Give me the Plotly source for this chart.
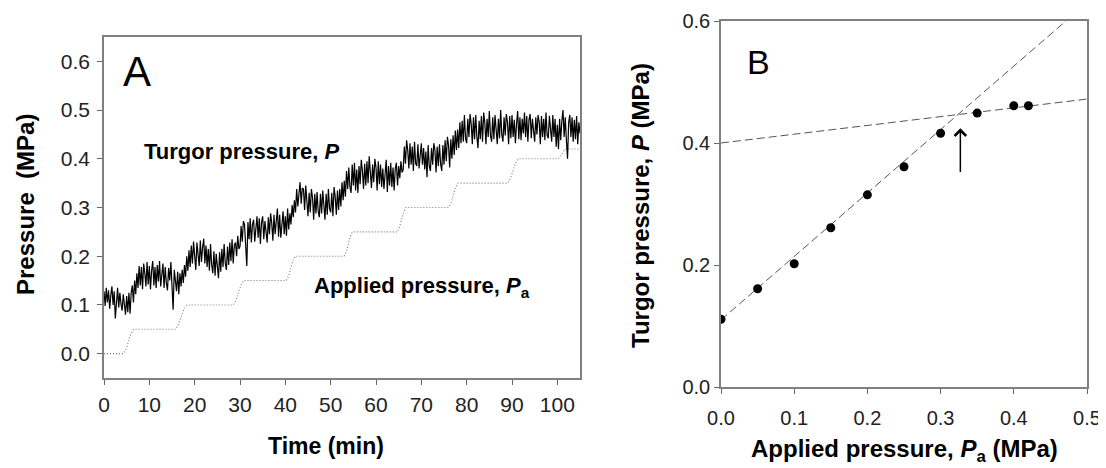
import plotly.graph_objects as go

# ---------------- Panel A data ----------------
# Turgor pressure trace (kPa), sampled every 0.25 min from 0 to 105 min
sample_step_min = 0.25
turgor_kpa = [
    128, 98, 135, 105,  130, 92, 120, 138,  100, 128, 72, 118,  135, 95, 125, 102,
    88, 122, 98, 80,  118, 85, 125, 82,  125, 140, 105, 150,  122, 165, 135, 180,
    140, 178, 132, 185,  165, 138, 188, 142,  180, 132, 170, 190,  140, 178, 135, 182,
    148, 190, 138, 172,  185, 135, 178, 145,  130, 176, 150, 188,  138, 90, 172, 140,
    128, 168, 122, 165,  138, 172, 145, 182,  158, 200, 170, 212,  178, 222, 185, 230,
    190, 172, 228, 195,  180, 232, 188, 218,  236, 185, 222, 178,  215, 170, 225, 182,
    165, 210, 160, 205,  172, 155, 208, 168,  215, 178, 225, 185,  172, 220, 182, 228,
    190, 235, 185, 222,  228, 200, 242, 215,  220, 262, 230, 272,  265, 232, 180, 270,
    235, 278, 228, 265,  275, 230, 268, 282,  238, 278, 225, 270,  282, 235, 272, 240,
    228, 280, 245, 288,  268, 232, 285, 245,  275, 298, 240, 285,  238, 275, 292, 245,
    282, 242, 298, 255,  288, 265, 305, 280,  315, 290, 338, 302,  325, 352, 308, 340,
    338, 295, 345, 302,  282, 330, 290, 338,  320, 275, 328, 288,  332, 292, 280, 328,
    288, 335, 295, 275,  328, 285, 338, 298,  290, 330, 282, 342,  322, 285, 335, 295,
    338, 302, 352, 315,  355, 322, 375, 338,  382, 342, 330, 388,  345, 392, 335, 378,
    330, 385, 348, 398,  375, 338, 390, 345,  395, 350, 405, 358,  340, 388, 352, 400,
    382, 335, 395, 348,  388, 342, 380, 338,  378, 398, 332, 385,  345, 392, 342, 382,
    335, 380, 392, 345,  385, 360, 395, 372,  378, 425, 390, 438,  418, 380, 432, 388,
    425, 375, 435, 390,  385, 430, 380, 418,  432, 388, 422, 378,  415, 362, 428, 385,
    375, 422, 388, 432,  418, 372, 425, 385,  430, 390, 375, 428,  388, 438, 395, 445,
    428, 382, 440, 400,  448, 408, 458, 418,  460, 422, 475, 432,  478, 435, 490, 442,
    432, 482, 445, 492,  472, 430, 485, 440,  490, 445, 422, 478,  440, 488, 435, 495,
    475, 430, 482, 445,  498, 448, 435, 485,  440, 490, 452, 430,  482, 442, 500, 450,
    435, 485, 448, 492,  475, 430, 488, 442,  490, 445, 480, 432,  472, 498, 440, 485,
    438, 482, 452, 495,  445, 488, 435, 480,  492, 442, 482, 448,  435, 485, 450, 490,
    475, 430, 488, 445,  482, 438, 495, 448,  442, 488, 452, 435,  490, 445, 482, 425,
    470, 420, 482, 438,  478, 500, 445, 485,  438, 400, 475, 490,  445, 485, 435, 480,
    440, 488, 430, 475,  452,
]
time_min = [i * sample_step_min for i in range(len(turgor_kpa))]
turgor_mpa = [v / 1000.0 for v in turgor_kpa]

# Applied pressure (step profile) breakpoints
applied_time_min = [
    0, 4.3, 4.9, 5.9, 6.5,
    15.8, 16.4, 17.6, 18.2,
    28.5, 29.1, 30.2, 30.8,
    40.2, 40.8, 41.6, 42.2,
    53.0, 53.5, 54.3, 54.8,
    64.7, 65.2, 66.1, 66.6,
    76.0, 76.6, 77.5, 78.1,
    89.0, 89.7, 90.7, 91.4,
    100.2, 100.6, 101.3, 101.7,
    105,
]
applied_mpa = [
    0, 0, 0.01, 0.04, 0.05,
    0.05, 0.06, 0.09, 0.10,
    0.10, 0.11, 0.14, 0.15,
    0.15, 0.16, 0.19, 0.20,
    0.20, 0.21, 0.24, 0.25,
    0.25, 0.26, 0.29, 0.30,
    0.30, 0.31, 0.34, 0.35,
    0.35, 0.36, 0.39, 0.40,
    0.40, 0.404, 0.416, 0.42,
    0.42,
]

# ---------------- Panel B data ----------------
applied_b = [0.0, 0.05, 0.10, 0.15, 0.20, 0.25, 0.30, 0.35, 0.40, 0.42]
turgor_b = [0.111, 0.161, 0.202, 0.261, 0.315, 0.361, 0.416, 0.449, 0.461, 0.461]
# linear fits: (intercept, slope)
fit_low = (0.110, 1.040)
fit_high = (0.400, 0.144)
fit_x = [0.0, 0.5]
arrow_x = 0.327
arrow_tail_y = 0.350
arrow_head_y = 0.424

# ---------------- Figure ----------------
# The page body has an 8px default margin, so the figure is drawn 8px smaller
# and all window-pixel positions are shifted by that offset.
OFF = 8
W, H = 1106 - OFF, 468 - OFF
FONT = "Arial, 'Liberation Sans', sans-serif"


def px(xp):
    return (xp - OFF) / W


def py(yp):
    return 1 - (yp - OFF) / H


fig = go.Figure()

fig.add_trace(go.Scatter(x=applied_time_min, y=applied_mpa, mode="lines",
                         line=dict(color="#7a7a7a", width=1.1, dash="1px,2px"),
                         xaxis="x", yaxis="y", showlegend=False))
fig.add_trace(go.Scatter(x=time_min, y=turgor_mpa, mode="lines",
                         line=dict(color="black", width=1.2),
                         xaxis="x", yaxis="y", showlegend=False))

for a, b in (fit_low, fit_high):
    fig.add_trace(go.Scatter(x=fit_x, y=[a + b * xv for xv in fit_x], mode="lines",
                             line=dict(color="#555555", width=1, dash="8px,4px"),
                             xaxis="x2", yaxis="y2", showlegend=False))
fig.add_trace(go.Scatter(x=applied_b, y=turgor_b, mode="markers",
                         marker=dict(color="black", size=9),
                         xaxis="x2", yaxis="y2", showlegend=False))

axis_common = dict(showgrid=False, zeroline=False, showline=True, mirror=True,
                   linecolor="#808080", linewidth=1.5, ticks="outside", ticklen=5,
                   tickcolor="#666666", tickwidth=1, automargin=False)
tick_a = dict(family=FONT, size=21, color="#222222")
tick_b = dict(family=FONT, size=20, color="#222222")

fig.update_layout(
    width=W, height=H,
    margin=dict(l=0, r=0, t=0, b=0, pad=0, autoexpand=False),
    paper_bgcolor="white", plot_bgcolor="white",
    font=dict(family=FONT),
    showlegend=False,
    xaxis=dict(domain=[px(104), px(580)], range=[0, 105], tickmode="array",
               tickvals=list(range(0, 101, 10)), anchor="y", tickfont=tick_a,
               ticklabelstandoff=2, **axis_common),
    yaxis=dict(domain=[py(378), py(37)], range=[-0.05, 0.65], tickmode="array",
               tickvals=[0, 0.1, 0.2, 0.3, 0.4, 0.5, 0.6], tickformat=".1f",
               anchor="x", tickfont=tick_a, ticklabelstandoff=3, **axis_common),
    xaxis2=dict(domain=[px(721), px(1087)], range=[0, 0.5], tickmode="array",
                tickvals=[0, 0.1, 0.2, 0.3, 0.4, 0.5], tickformat=".1f",
                anchor="y2", tickfont=tick_b, ticklabelstandoff=7, **axis_common),
    yaxis2=dict(domain=[py(387), py(21)], range=[0, 0.6], tickmode="array",
                tickvals=[0, 0.2, 0.4, 0.6], tickformat=".1f",
                anchor="x2", tickfont=tick_b, ticklabelstandoff=0, **axis_common),
)

ann = []
# Panel labels
ann.append(dict(text="A", x=px(121), y=py(72), xref="paper", yref="paper",
                xanchor="left", yanchor="middle", showarrow=False,
                font=dict(family=FONT, size=42, color="black")))
ann.append(dict(text="B", x=px(745), y=py(62), xref="paper", yref="paper",
                xanchor="left", yanchor="middle", showarrow=False,
                font=dict(family=FONT, size=34, color="black")))
# In-plot labels
ann.append(dict(text="<b>Turgor pressure, <i>P</i></b>", x=px(142), y=py(151),
                xref="paper", yref="paper", xanchor="left", yanchor="middle",
                showarrow=False, font=dict(family=FONT, size=22, color="black")))
ann.append(dict(text="<b>Applied pressure, <i>P</i><sub>a</sub></b>", x=px(312), y=py(287),
                xref="paper", yref="paper", xanchor="left", yanchor="middle",
                showarrow=False, font=dict(family=FONT, size=22, color="black")))
# Axis titles
ann.append(dict(text="<b>Pressure  (MPa)</b>", x=px(25), y=py(205), xref="paper", yref="paper",
                xanchor="center", yanchor="middle", textangle=-90, showarrow=False,
                font=dict(family=FONT, size=24, color="black")))
ann.append(dict(text="<b>Time (min)</b>", x=px(326), y=py(446), xref="paper", yref="paper",
                xanchor="center", yanchor="middle", showarrow=False,
                font=dict(family=FONT, size=23, color="black")))
ann.append(dict(text="<b>Turgor pressure, <i>P</i> (MPa)</b>", x=px(641), y=py(206),
                xref="paper", yref="paper", xanchor="center", yanchor="middle",
                textangle=-90, showarrow=False,
                font=dict(family=FONT, size=24, color="black")))
ann.append(dict(text="<b>Applied pressure, <i>P</i><sub>a</sub> (MPa)</b>", x=px(904), y=py(450),
                xref="paper", yref="paper", xanchor="center", yanchor="middle",
                showarrow=False, font=dict(family=FONT, size=24, color="black")))
# Arrow in panel B
ann.append(dict(text="", x=arrow_x, y=arrow_head_y, ax=arrow_x, ay=arrow_tail_y,
                xref="x2", yref="y2", axref="x2", ayref="y2", showarrow=True,
                arrowhead=4, arrowsize=1.5, arrowwidth=1.5, arrowcolor="black"))

fig.update_layout(annotations=ann)
fig.write_html("out.html")
